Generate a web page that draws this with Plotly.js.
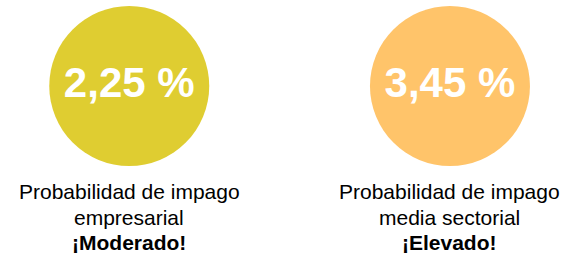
<!DOCTYPE html>
<html>
<head>
<meta charset="utf-8">
<script src="https://cdn.plot.ly/plotly-3.0.1.min.js"></script>
<style>html,body{margin:0;padding:0;background:#fff;}#chart{width:576px;height:256px;}</style>
</head>
<body>
<div id="chart"></div>
<script>
const categories = ["empresarial", "sectorial"];
const values = [2.25, 3.45];
const labelLine1 = ["Probabilidad de impago", "Probabilidad de impago"];
const labelLine2 = ["empresarial", "media sectorial"];
const ratings = ["¡Moderado!", "¡Elevado!"];
const colors = ["#DFCD31", "#FFC46A"];

const texts = values.map(v => v.toFixed(2).replace('.', ',') + ' %');

const trace = {
  type: 'scatter',
  mode: 'markers+text',
  x: categories,
  y: categories.map(() => 0),
  text: texts,
  textposition: 'middle center',
  textfont: {family: 'Liberation Sans, Arial, sans-serif', size: 42, color: '#ffffff', weight: 'bold'},
  marker: {size: 160, color: colors, line: {width: 0}},
  hoverinfo: 'skip',
  cliponaxis: false
};

const lineY = [-105, -131, -156];
const annotations = [];
categories.forEach((c, i) => {
  [labelLine1[i], labelLine2[i], '<b>' + ratings[i] + '</b>'].forEach((t, k) => {
    annotations.push({
      x: c, y: lineY[k], xref: 'x', yref: 'y',
      xanchor: 'center', yanchor: 'middle',
      text: t, showarrow: false, align: 'center',
      font: {family: 'Liberation Sans, Arial, sans-serif', size: 21, color: '#000000'}
    });
  });
});

const layout = {
  width: 576, height: 256,
  margin: {l: 0, r: 0, t: 0, b: 0},
  paper_bgcolor: '#ffffff', plot_bgcolor: '#ffffff',
  showlegend: false,
  xaxis: {type: 'category', range: [-0.403, 1.393], visible: false, fixedrange: true},
  yaxis: {range: [-170, 86], visible: false, fixedrange: true},
  annotations: annotations
};

Plotly.newPlot('chart', [trace], layout, {displayModeBar: false, staticPlot: true});
</script>
</body>
</html>
